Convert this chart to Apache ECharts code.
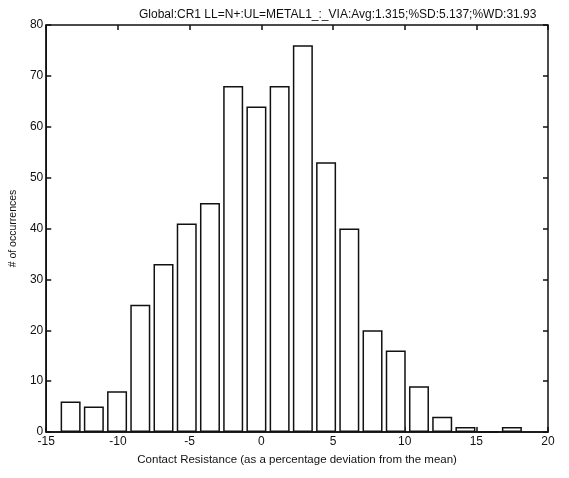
<!DOCTYPE html>
<html>
<head>
<meta charset="utf-8">
<script src="https://cdn.jsdelivr.net/npm/echarts@6/dist/echarts.min.js"></script>
<style>
  html, body { margin: 0; padding: 0; background: #fff; }
  #chart { width: 569px; height: 478px; }
</style>
</head>
<body>
<div id="chart"></div>
<script>
// bin centres (percent deviation) and counts
const binCenters = [-13.3, -11.68, -10.06, -8.44, -6.82, -5.2, -3.58, -1.96, -0.34, 1.28,
                    2.9, 4.52, 6.14, 7.76, 9.38, 11.0, 12.62, 14.24, 15.86, 17.48]
const counts = [6, 5, 8, 25, 33, 41, 45, 68, 64, 68,
                76, 53, 40, 20, 16, 9, 3, 1, 0, 1]
const titleText = 'Global:CR1 LL=N+:UL=METAL1_:_VIA:Avg:1.315;%SD:5.137;%WD:31.93'

const font = 'Liberation Sans'
const ink = '#111'

const chart = echarts.init(document.getElementById('chart'))

// tick-only axes for the top and right edges of the box
const edgeAxis = {
    axisLine: { show: false, onZero: false },
    axisLabel: { show: false },
    splitLine: { show: false },
    axisTick: { show: true, inside: true, length: 5, lineStyle: { color: ink, width: 1.5 } }
}

const option = {
    animation: false,
    backgroundColor: '#fff',
    title: {
        text: titleText,
        left: 134,
        top: 4,
        textStyle: { fontFamily: font, fontSize: 12, fontWeight: 'normal', color: ink }
    },
    grid: {
        left: 42,
        right: 21,
        top: 25,
        bottom: 46,
        show: true,
        borderColor: ink,
        borderWidth: 1.5,
        backgroundColor: 'transparent'
    },
    xAxis: [
        {
            type: 'value',
            min: -15,
            max: 20,
            interval: 5,
            name: 'Contact Resistance (as a percentage deviation from the mean)',
            nameLocation: 'middle',
            nameGap: 22,
            nameTextStyle: { fontFamily: font, fontSize: 11.5, color: ink },
            axisLine: { show: true, onZero: false, lineStyle: { color: ink, width: 1.5 } },
            axisTick: { show: true, inside: true, length: 5, lineStyle: { color: ink, width: 1.5 } },
            axisLabel: { fontFamily: font, fontSize: 12, color: ink, margin: 4 },
            splitLine: { show: false }
        },
        Object.assign({ type: 'value', position: 'top', min: -15, max: 20, interval: 5 }, edgeAxis)
    ],
    yAxis: [
        {
            type: 'value',
            min: 0,
            max: 80,
            interval: 10,
            name: '# of occurrences',
            nameLocation: 'middle',
            nameGap: 22,
            nameTextStyle: { fontFamily: font, fontSize: 10.5, color: ink },
            axisLine: { show: true, onZero: false, lineStyle: { color: ink, width: 1.5 } },
            axisTick: { show: true, inside: true, length: 5, lineStyle: { color: ink, width: 1.5 } },
            axisLabel: { fontFamily: font, fontSize: 12, color: ink, margin: 3 },
            splitLine: { show: false }
        },
        Object.assign({ type: 'value', position: 'right', min: 0, max: 80, interval: 10 }, edgeAxis)
    ],
    series: [
        {
            type: 'bar',
            xAxisIndex: 0,
            yAxisIndex: 0,
            barWidth: 20,
            data: binCenters.map((c, i) => [c, counts[i]]),
            itemStyle: { color: '#fff', borderColor: ink, borderWidth: 1.5 }
        }
    ]
}

chart.setOption(option)
</script>
</body>
</html>
